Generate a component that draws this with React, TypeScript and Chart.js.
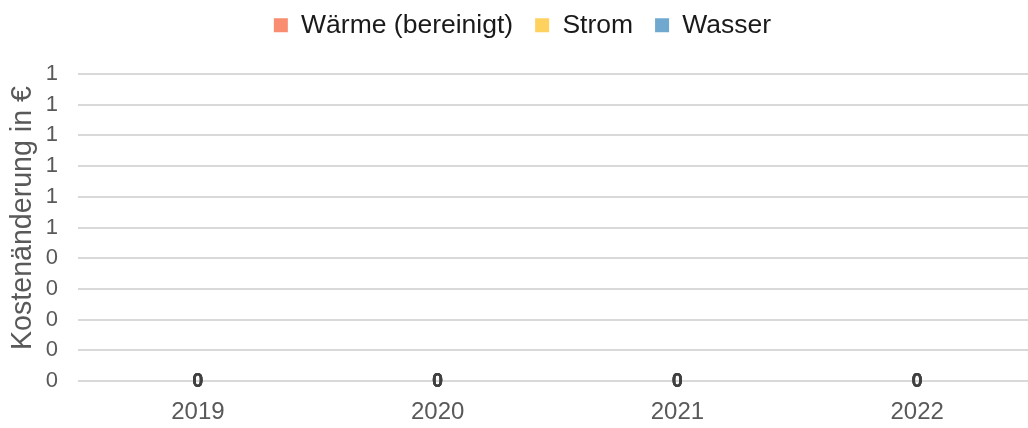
import React, { useEffect, useRef } from "react";
import { Chart, registerables } from "chart.js";

Chart.register(...registerables);

const categories = ["2019", "2020", "2021", "2022"];
const waerme = [0, 0, 0, 0];
const strom = [0, 0, 0, 0];
const wasser = [0, 0, 0, 0];
const seriesNames = ["Wärme (bereinigt)", "Strom", "Wasser"];
const seriesColors = ["#F88D72", "#FFD25F", "#70A8D0"];
const yMin = 0;
const yMax = 1;
const yStep = 0.1;
const yTitle = "Kostenänderung in €";

const FONT = "'Liberation Sans', Arial, sans-serif";

const dataLabelPlugin = {
  id: "dataLabels",
  afterDatasetsDraw(chart: any) {
    const ctx = chart.ctx;
    ctx.save();
    ctx.font = `bold 20px ${FONT}`;
    ctx.fillStyle = "#404040";
    ctx.textAlign = "center";
    ctx.textBaseline = "middle";
    chart.data.datasets.forEach((ds: any, i: number) => {
      const meta = chart.getDatasetMeta(i);
      if (meta.hidden) return;
      meta.data.forEach((el: any, j: number) => {
        const p = el.getCenterPoint();
        ctx.fillText(String(Math.round(ds.data[j])), p.x, p.y);
      });
    });
    ctx.restore();
  },
};

const yTitlePlugin = {
  id: "yTitle",
  afterDraw(chart: any) {
    const ctx = chart.ctx;
    ctx.save();
    ctx.font = `28.6px ${FONT}`;
    ctx.fillStyle = "#595959";
    ctx.textAlign = "center";
    ctx.textBaseline = "middle";
    ctx.translate(15, 228);
    ctx.rotate(-Math.PI / 2);
    ctx.fillText(yTitle, 0, 0);
    ctx.restore();
  },
};

const legendHeightPlugin = {
  id: "legendHeight",
  beforeInit(chart: any) {
    const legend = chart.legend;
    if (!legend) return;
    const orig = legend.fit;
    legend.fit = function () {
      orig.call(legend);
      this.height = 84;
    };
  },
};

export default function App() {
  const ref = useRef<HTMLCanvasElement | null>(null);
  useEffect(() => {
    if (!ref.current) return;
    const chart = new Chart(ref.current, {
      type: "bar",
      data: {
        labels: categories,
        datasets: [waerme, strom, wasser].map((d, i) => ({
          label: seriesNames[i],
          data: d,
          backgroundColor: seriesColors[i],
          borderWidth: 0,
        })),
      },
      options: {
        animation: false,
        responsive: false,
        maintainAspectRatio: false,
        layout: { padding: { left: 0, right: 1, top: 0, bottom: 0 } },
        plugins: {
          legend: {
            position: "top",
            labels: {
              boxWidth: 14,
              boxHeight: 14,
              padding: 22,
              color: "#1a1a1a",
              font: { family: FONT, size: 26.5 },
            },
          },
          tooltip: { enabled: false },
        },
        scales: {
          x: {
            stacked: true,
            grid: { display: false, drawTicks: true, tickLength: 17 },
            border: { display: false },
            ticks: {
              color: "#595959",
              padding: 0,
              autoSkip: false,
              maxRotation: 0,
              font: { family: FONT, size: 24 },
            },
          },
          y: {
            stacked: true,
            min: yMin,
            max: yMax,
            grid: {
              color: "#d9d9d9",
              lineWidth: 2,
              drawTicks: true,
              tickLength: -17.8,
              tickColor: "rgba(0,0,0,0)",
            },
            border: { display: false },
            ticks: {
              stepSize: yStep,
              autoSkip: false,
              color: "#595959",
              padding: 37.8,
              font: { family: FONT, size: 22 },
              callback: (v: any) => String(Math.round(Number(v))),
            },
          },
        },
      },
      plugins: [dataLabelPlugin, yTitlePlugin, legendHeightPlugin],
    });
    return () => chart.destroy();
  }, []);

  return (
    <div
      style={{
        position: "fixed",
        left: 0,
        top: 0,
        width: 1028,
        height: 428,
        overflow: "hidden",
        background: "#fff",
      }}
    >
      <div style={{ position: "absolute", left: 8, top: -10, width: 1030, height: 442 }}>
        <canvas ref={ref} width={1030} height={442} style={{ width: 1030, height: 442 }} />
      </div>
    </div>
  );
}
